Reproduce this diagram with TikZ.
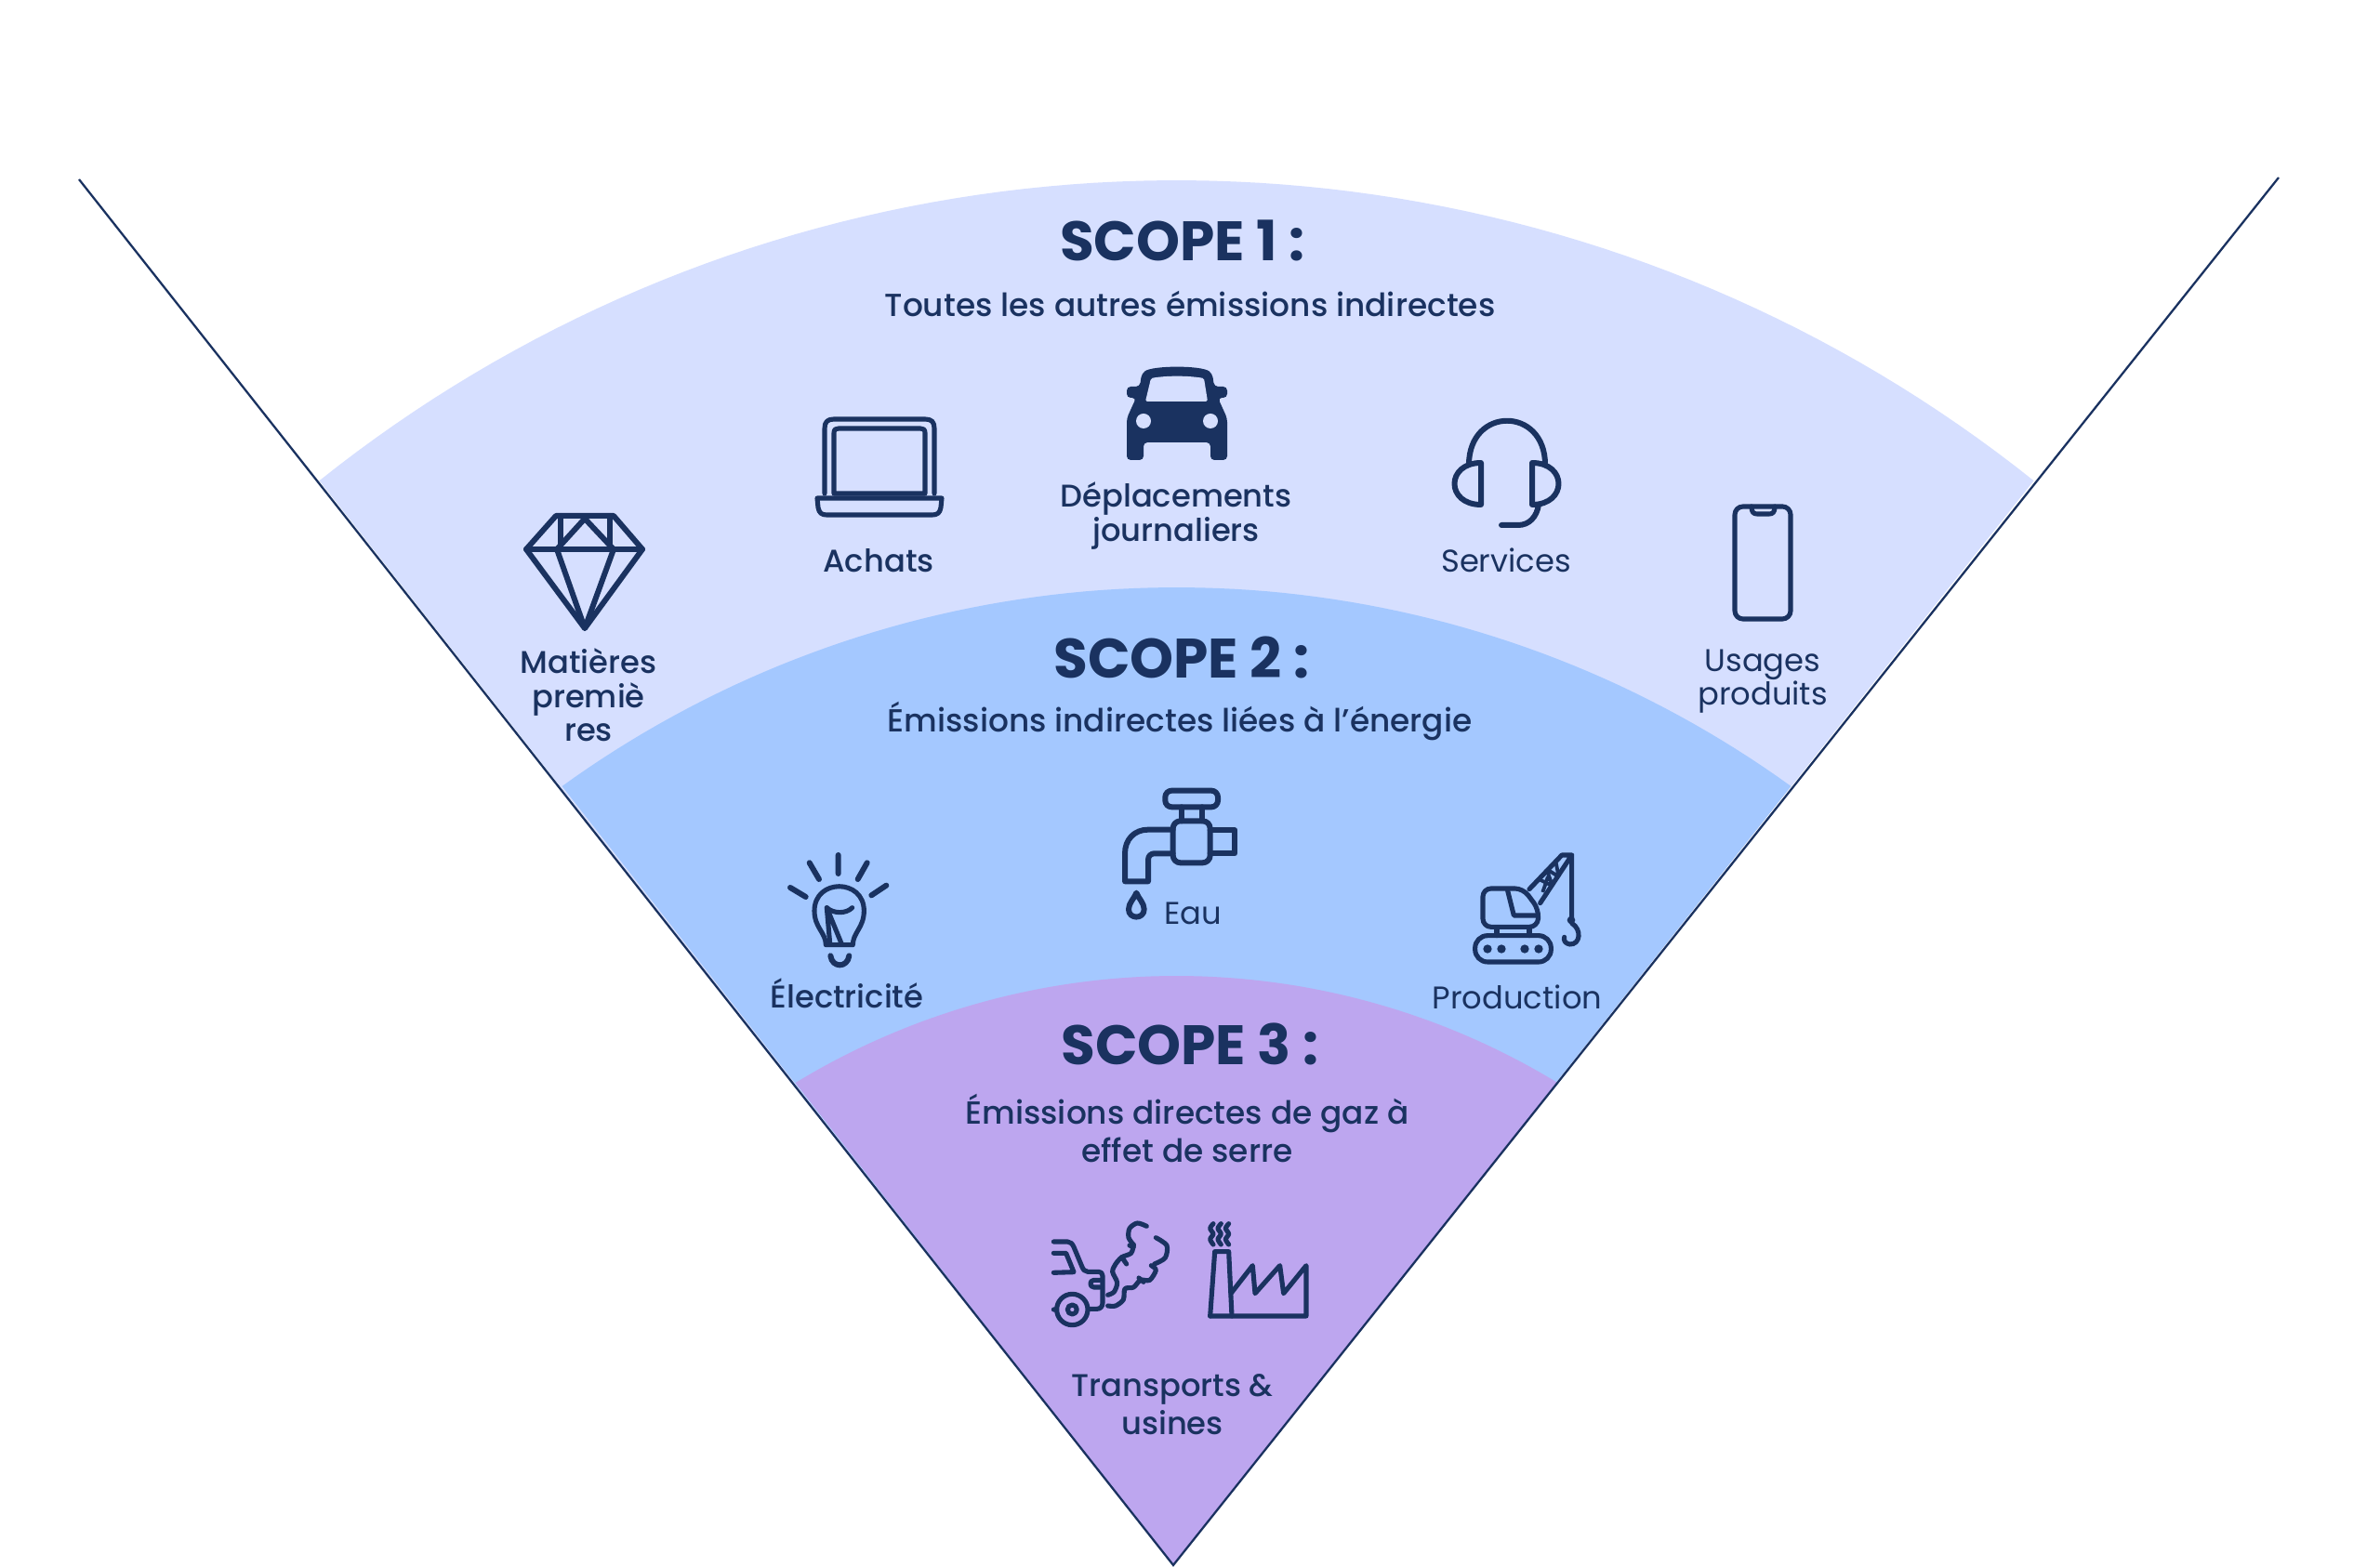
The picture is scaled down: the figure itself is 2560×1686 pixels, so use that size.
\documentclass[tikz,border=0pt]{standalone}
\usepackage{fontspec}
\setmainfont{Poppins}
\newfontfamily\popm{Poppins}[UprightFont=* Medium,BoldFont=* Bold]
\definecolor{navy}{HTML}{1A3260}
\definecolor{sone}{HTML}{D6DFFF}
\definecolor{stwo}{HTML}{A4C8FF}
\definecolor{sthree}{HTML}{BDA6EF}
\tikzset{
  title/.style={font=\fontsize{17pt}{20pt}\selectfont\bfseries,text=navy,inner sep=0pt},
  sub/.style={font=\popm\fontsize{9.77pt}{11.6pt}\selectfont,text=navy,inner sep=0pt,align=center},
  lab/.style={font=\popm\fontsize{9.6pt}{10.4pt}\selectfont,text=navy,inner sep=0pt,align=center},
  labr/.style={font=\fontsize{9.6pt}{10.4pt}\selectfont,text=navy,inner sep=0pt,align=center},
  ic/.style={draw=navy,line width=1.7pt,line cap=round,line join=round},
  icthin/.style={draw=navy,line width=1.45pt,line cap=round,line join=round},
}
\begin{document}
\begin{tikzpicture}[x=0.01cm,y=-0.01cm]
\useasboundingbox (0,0) rectangle (2560,1686);
\fill[white] (0,0) rectangle (2560,1686);
\coordinate (apex) at (1262,1684);
\coordinate (topL) at (85,193);
\coordinate (topR) at (2451,191);
\fill[sone] (apex) -- plot[domain=-38.63:38.63,samples=80] ({1265.5+1477*sin(\x)},{1671-1477*cos(\x)}) -- cycle;
\fill[stwo] (apex) -- plot[domain=-35.87:35.87,samples=80] ({1265.5+1128*sin(\x)},{1760-1128*cos(\x)}) -- cycle;
\fill[sthree] (apex) -- plot[domain=-31.35:31.35,samples=80] ({1265.5+788*sin(\x)},{1838-788*cos(\x)}) -- cycle;
\draw[navy,line width=0.65pt] (topL) -- (apex) -- (topR);
% texts
\node[title] (t1) at (1272,259) {SCOPE 1 :};
\node[sub] (s1) at (1280,327) {Toutes les autres émissions indirectes};
\node[title] (t2) at (1271,707) {SCOPE 2 :};
\node[sub] (s2) at (1269,776) {Émissions indirectes liées à l’énergie};
\node[title] (t3) at (1280,1123) {SCOPE 3 :};
\node[sub] (s3) at (1277,1214) {Émissions directes de gaz à\\effet de serre};
\node[lab] (l1) at (633,748) {Matières\\premiè\\res};
\node[lab] (l2) at (945,603) {Achats};
\node[lab] (l3) at (1265,555) {Déplacements\\journaliers};
\node[labr] (l4) at (1620,603) {Services};
\node[labr] (l5) at (1896,733) {Usages\\produits};
\node[lab] (l6) at (911,1069) {Électricité};
\node[labr] (l7) at (1283,983) {Eau};
\node[labr] (l8) at (1632,1073) {Production};
\node[sub,font=\popm\fontsize{9.6pt}{11.6pt}\selectfont] (l9) at (1261,1511) {Transports \&\\usines};
% diamond
\begin{scope}[shift={(0,2)}]
\draw[ic] (598,553)--(660,553)--(691,589)--(629,674)--(566,589)--cycle;
\draw[ic] (566,589)--(691,589) (603,553)--(603,589) (656,553)--(656,589) (599,589)--(629,556)--(660,589) (599,589)--(629,674)--(660,589);
\end{scope}
% laptop
\begin{scope}[shift={(0,1)}]
\draw[icthin] (887,530)--(887,460) .. controls (887,453) and (890,450) .. (897,450)--(995,450) .. controls (1002,450) and (1005,453) .. (1005,460)--(1005,530);
\draw[icthin] (897,530)--(897,465) .. controls (897,461) and (899,460) .. (902,460)--(990,460) .. controls (993,460) and (995,461) .. (995,465)--(995,530)--cycle;
\draw[icthin] (879,535)--(1013,535)--(1012,545) .. controls (1011,551) and (1008,553) .. (1003,553)--(889,553) .. controls (884,553) and (881,551) .. (880,545)--cycle;
\end{scope}
% car
\fill[navy,rounded corners=1.2pt] (1212,495)--(1212,450)--(1222,428)--(1212,428)--(1212,416)--(1226,416)--(1228,402) .. controls (1240,393) and (1292,393) .. (1304,402)--(1306,416)--(1320,416)--(1320,428)--(1310,428)--(1320,450)--(1320,495)--(1302,495)--(1302,476)--(1230,476)--(1230,495)--cycle;
\fill[sone,rounded corners=0.5pt] (1238,407) .. controls (1255,404) and (1277,404) .. (1295,407)--(1299,432)--(1232,432)--cycle;
\fill[sone] (1230,453) circle[radius=8];
\fill[sone] (1302,453) circle[radius=8];
% headset
\begin{scope}[shift={(0,3)}]
\draw[ic] (1580,497) .. controls (1580,434) and (1662,434) .. (1662,497);
\draw[ic] (1593,495)--(1593,540) .. controls (1555,540) and (1555,495) .. (1593,495)--cycle;
\draw[ic] (1648,495)--(1648,540) .. controls (1686,540) and (1686,495) .. (1648,495)--cycle;
\draw[ic] (1655,540) .. controls (1653,553) and (1645,562) .. (1633,562)--(1615,562);
\end{scope}
% phone
\draw[icthin,rounded corners=2.5pt] (1866,545)--(1926,545)--(1926,666)--(1866,666)--cycle;
\draw[icthin] (1884,545) .. controls (1884,551) and (1886,553) .. (1890,553)--(1903,553) .. controls (1907,553) and (1909,551) .. (1909,545);
% bulb
\begin{scope}[shift={(800,820)},scale=1/3]
\draw[ic] (305,300)--(305,360) (212,325)--(243,378) (398,325)--(368,378) (150,405)--(200,435) (460,398)--(412,430);
\draw[icthin] (265,590) .. controls (265,550) and (228,535) .. (228,480) .. controls (228,375) and (388,375) .. (388,480) .. controls (388,535) and (352,550) .. (352,590)--cycle;
\draw[icthin] (268,470) .. controls (290,490) and (330,490) .. (350,470);
\draw[icthin] (268,470)--(278,585) (268,470)--(315,585);
\draw[ic] (280,625) .. controls (285,665) and (335,665) .. (340,625);
\end{scope}
% faucet
\begin{scope}[shift={(1190,840)},scale=1/3]
\draw[ic,rounded corners=2pt] (190,32)--(360,32)--(360,85)--(190,85)--cycle;
\draw[ic] (243,85)--(243,130) (310,85)--(310,130);
\draw[ic,rounded corners=2.3pt] (215,130)--(335,130)--(335,265)--(215,265)--cycle;
\draw[ic] (215,158)--(135,158) .. controls (90,158) and (60,190) .. (60,235)--(60,325)--(135,325)--(135,255) .. controls (135,242) and (145,235) .. (155,235)--(215,235);
\draw[ic] (335,160)--(415,160)--(415,235)--(335,235);
\draw[ic] (97,362) .. controls (90,380) and (72,395) .. (72,415) .. controls (72,448) and (122,448) .. (122,415) .. controls (122,395) and (104,380) .. (97,362)--cycle;
\end{scope}
% crane
\begin{scope}[shift={(1500,880)},scale=1/3]
\draw[icthin,rounded corners=2.5pt] (415,228)--(285,228)--(285,352)--(462,352)--(465,295)--cycle;
\draw[icthin] (365,235)--(385,315)--(462,315);
\draw[icthin] (435,230)--(540,120)--(572,120)--(572,320) (470,275)--(572,120);
\draw[line width=1.1pt,navy] (470,200)--(510,220) (510,220)--(490,165) (490,165)--(530,190) (530,190)--(520,140) (478,240)--(495,190);
\fill[navy] (570,330) circle[radius=13];
\draw[icthin] (572,340) .. controls (605,360) and (600,410) .. (565,408) .. controls (550,405) and (545,395) .. (548,385);
\draw[icthin,rounded corners=3.8pt] (260,380)--(505,380)--(505,465)--(260,465)--cycle;
\draw[icthin] (330,355)--(330,380) (435,355)--(435,380);
\fill[navy] (300,423) circle[radius=14] (345,423) circle[radius=14] (420,423) circle[radius=14] (465,423) circle[radius=14];
\end{scope}
% exhaust car
\begin{scope}[shift={(1100,1290)},scale=1/3]
\draw[icthin] (100,138)--(145,138) .. controls (155,138) and (160,145) .. (165,155)--(190,215) .. controls (195,228) and (200,235) .. (210,235)--(245,235) .. controls (253,235) and (258,240) .. (258,248)--(258,335) .. controls (258,348) and (250,355) .. (240,355)--(215,355);
\draw[icthin] (100,175)--(140,175)--(165,236)--(100,238);
\draw[icthin] (250,262)--(230,262) .. controls (215,262) and (215,285) .. (230,285)--(250,285);
\draw[icthin] (160,357) circle[radius=50] (160,357) circle[radius=15] (100,357)--(110,357);
\draw[icthin] plot[smooth] coordinates {(400,88)(370,78)(345,95)(342,125)(358,148)};
\draw[icthin] plot[smooth] coordinates {(358,148)(350,175)(320,188)(300,210)(290,235)(305,270)(295,300)(275,310)};
\draw[icthin] plot[smooth] coordinates {(430,125)(465,150)(460,190)(425,210)};
\draw[icthin] plot[smooth] coordinates {(415,215)(430,230)(410,262)(380,262)(358,285)(330,290)(325,325)(300,345)(275,345)};
\draw[icthin] (320,188)--(335,210) (345,150)--(358,155) (375,255)--(390,268);
% factory
\draw[icthin] (605,378)--(915,378)--(915,215)--(842,305)--(830,215)--(750,305)--(742,215)--(672,305);
\draw[icthin] (605,378)--(620,170)--(665,170)--(675,378);
\foreach \xx in {615,640,665}
  \draw[icthin] plot[smooth] coordinates {(\xx,80)(\xx-10,95)(\xx,113)(\xx-10,130)(\xx,147)};
\end{scope}
\end{tikzpicture}
\end{document}
